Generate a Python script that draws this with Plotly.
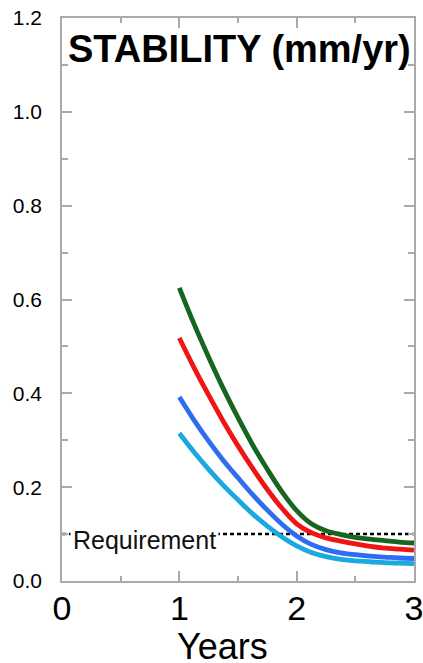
import plotly.graph_objects as go

years = [1.0, 1.125, 1.25, 1.375, 1.5, 1.625, 1.75, 1.875, 2.0,
         2.125, 2.25, 2.375, 2.5, 2.625, 2.75, 2.875, 3.0]
green = [0.625, 0.548, 0.477, 0.410, 0.348, 0.290, 0.238, 0.190, 0.150,
         0.122, 0.107, 0.099, 0.093, 0.089, 0.086, 0.083, 0.081]
red = [0.518, 0.455, 0.396, 0.340, 0.288, 0.240, 0.195, 0.155, 0.122,
       0.103, 0.092, 0.085, 0.079, 0.074, 0.070, 0.068, 0.066]
blue = [0.392, 0.343, 0.298, 0.257, 0.220, 0.184, 0.151, 0.121, 0.096,
        0.078, 0.067, 0.060, 0.056, 0.053, 0.051, 0.049, 0.048]
cyan = [0.315, 0.275, 0.238, 0.204, 0.173, 0.143, 0.117, 0.094, 0.075,
        0.061, 0.052, 0.046, 0.043, 0.041, 0.039, 0.038, 0.037]
requirement = 0.1
req_x = [0, 3]

series = [
    ("green", green, "#17661f"),
    ("red", red, "#f01414"),
    ("blue", blue, "#2e6cf0"),
    ("cyan", cyan, "#19a8e0"),
]

font_family = "Liberation Sans, Arial, Helvetica, sans-serif"

fig = go.Figure()

fig.add_trace(go.Scatter(
    x=req_x, y=[requirement, requirement], mode="lines",
    line=dict(color="black", width=2.5, dash="4px,3px"),
    hoverinfo="skip", showlegend=False))

for name, vals, col in reversed(series):
    fig.add_trace(go.Scatter(
        x=years, y=vals, mode="lines", name=name,
        line=dict(color=col, width=4.8, shape="spline", smoothing=1.0),
        showlegend=False))

fig.add_annotation(
    x=0.07, y=0.087, xref="x", yref="y", xanchor="left", yanchor="middle",
    text="Requirement", showarrow=False, bgcolor="white", borderpad=2,
    font=dict(family=font_family, size=25, color="#111"))

fig.add_annotation(
    x=1.51, y=1.133, xref="x", yref="y", xanchor="center", yanchor="middle",
    text="<b>STABILITY (mm/yr)</b>", showarrow=False,
    font=dict(family=font_family, size=38, color="black"))

# x-axis title
fig.add_annotation(
    x=1.372, y=-0.1155, xref="x", yref="paper", xanchor="center", yanchor="middle",
    text="Years", showarrow=False, borderpad=0,
    font=dict(family=font_family, size=36, color="black"))

axis_common = dict(
    showline=True, linecolor="#aaaaaa", linewidth=1.5, mirror="ticks",
    ticks="inside", tickcolor="#aaaaaa", tickwidth=1.5, showgrid=False,
    zeroline=False, automargin=False)

fig.update_xaxes(
    range=[0, 3], dtick=1, tick0=0, ticklen=10,
    tickfont=dict(family=font_family, size=34, color="black"),
    ticklabelstandoff=-4, ticklabeloverflow="allow",
    minor=dict(dtick=0.5, ticks="inside", ticklen=5, tickcolor="#aaaaaa", tickwidth=1.5, showgrid=False),
    **axis_common)

fig.update_yaxes(
    range=[0, 1.2], dtick=0.2, tick0=0, ticklen=10, tickformat=".1f",
    tickfont=dict(family=font_family, size=21, color="black"),
    ticklabelstandoff=14,
    minor=dict(dtick=0.1, ticks="inside", ticklen=6, tickcolor="#aaaaaa", tickwidth=1.5, showgrid=False),
    **axis_common)

fig.update_layout(
    width=423, height=663,
    margin=dict(l=62, r=9, t=18, b=82),
    plot_bgcolor="white", paper_bgcolor="white",
    font=dict(family=font_family),
)

fig.write_html(
    "out.html",
    config={"displayModeBar": False},
    post_script="document.body.style.margin='0';document.body.style.overflow='hidden';",
)
